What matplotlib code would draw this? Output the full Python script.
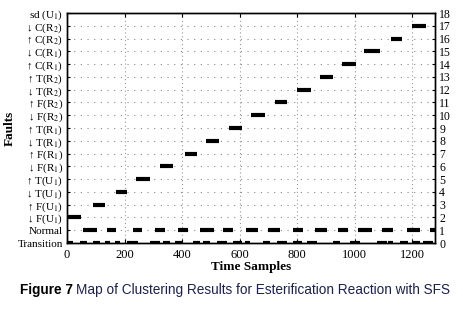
import numpy as np
import matplotlib
matplotlib.use("Agg")
import matplotlib.pyplot as plt

plt.rcParams['font.family'] = ['Liberation Serif', 'DejaVu Serif']
plt.rcParams['mathtext.fontset'] = 'stix'

# fault labels, bottom (0) to top (18)
fault_labels = ['Transition', 'Normal',
                '\u2193 F(U$_1$)', '\u2191 F(U$_1$)', '\u2193 T(U$_1$)', '\u2191 T(U$_1$)',
                '\u2193 F(R$_1$)', '\u2191 F(R$_1$)', '\u2193 T(R$_1$)', '\u2191 T(R$_1$)',
                '\u2193 F(R$_2$)', '\u2191 F(R$_2$)', '\u2193 T(R$_2$)', '\u2191 T(R$_2$)',
                '\u2191 C(R$_1$)', '\u2193 C(R$_1$)', '\u2191 C(R$_2$)', '\u2193 C(R$_2$)',
                'sd (U$_1$)']

# fault episodes: (cluster level, start sample, end sample)
fault_level = [2, 3, 4, 5, 6, 7, 8, 9, 10, 11, 12, 13, 14, 15, 16, 17]
fault_start = [0, 89, 169, 240, 325, 409, 483, 564, 639, 725, 801, 880, 958, 1034, 1128, 1199]
fault_end = [50, 131, 210, 290, 370, 451, 528, 609, 687, 766, 848, 924, 1006, 1087, 1164, 1247]

# samples assigned to the normal cluster
normal_start = [57, 138, 231, 306, 387, 463, 543, 624, 699, 786, 863, 944, 1013, 1094, 1181, 1262]
normal_end = [103, 172, 260, 341, 421, 510, 577, 664, 740, 821, 903, 979, 1060, 1134, 1228, 1280]

# samples assigned to the transition cluster
trans_start = [0, 45, 92, 132, 167, 208, 289, 335, 376, 439, 474, 521, 578, 619, 683,
               729, 787, 834, 926, 984, 1077, 1118, 1158, 1204, 1239]
trans_end = [21, 68, 115, 150, 184, 248, 323, 358, 404, 463, 497, 555, 608, 636, 706,
             764, 816, 868, 949, 1019, 1112, 1135, 1187, 1228, 1274]

fig = plt.figure(figsize=(4.64, 3.11), dpi=100)
ax = fig.add_axes([0.1444, 0.2186, 0.7931, 0.7395])

ax.hlines(fault_level, fault_start, fault_end, colors='black', lw=3.0)
ax.hlines([1] * len(normal_start), normal_start, normal_end, colors='black', lw=3.0)
ax.hlines([0] * len(trans_start), trans_start, trans_end, colors='black', lw=3.0)

ax.set_xlim(0, 1280)
ax.set_ylim(0, 18)
ax.set_xticks([0, 200, 400, 600, 800, 1000, 1200])
ax.set_yticks(range(19))
ax.set_yticklabels(fault_labels)

for lev in range(1, 18):
    ax.axhline(lev, color='#888888', lw=0.8, ls=(0, (1, 5)), zorder=0)
for xv in [200, 400, 600, 800, 1000, 1200]:
    ax.axvline(xv, color='#999999', lw=0.8, ls=(0, (1, 2.5)), zorder=0)

ax.tick_params(axis='x', direction='in', labelsize=9, length=3, top=True,
               width=0.8, pad=4)
ax.tick_params(axis='y', direction='in', labelsize=8, length=2.5, width=0.8, pad=3)

ax2 = ax.twinx()
ax2.set_ylim(0, 18)
ax2.set_yticks(range(19))
ax2.tick_params(axis='y', direction='in', labelsize=8.5, length=2.5, width=0.8, pad=3)

for a in (ax, ax2):
    for s in a.spines.values():
        s.set_linewidth(1.0)

ax.set_xlabel('Time Samples', fontsize=9.5, fontweight='bold', labelpad=0)
ax.set_ylabel('Faults', fontsize=9.5, fontweight='bold')
ax.yaxis.set_label_coords(-0.14, 0.5)

cap1 = fig.text(20 / 464, 0.067, 'Figure 7', fontsize=9.8, fontweight='bold',
                family='Liberation Sans', color='black', va='center')
fig.canvas.draw()
bb = cap1.get_window_extent()
fig.text((bb.x1 + 3) / 464, 0.067,
         'Map of Clustering Results for Esterification Reaction with SFS',
         fontsize=9.8, family='Liberation Sans', color='#1c2050', va='center')

fig.savefig('out.png', dpi=100)
